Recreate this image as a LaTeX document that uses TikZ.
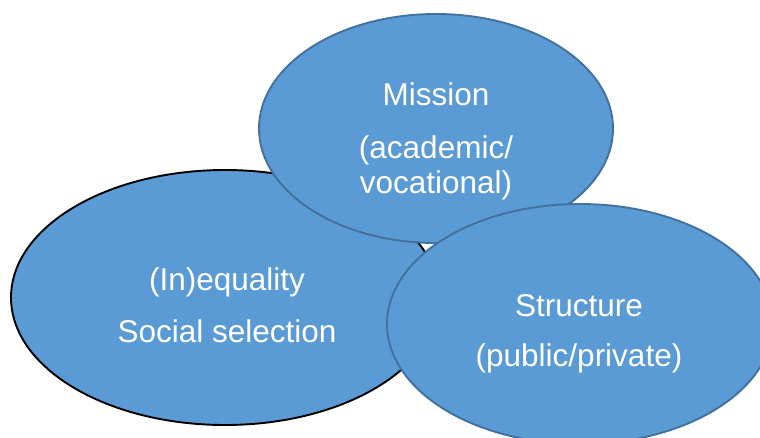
\documentclass[tikz,border=0pt]{standalone}
\usepackage{fontspec}
\setmainfont{Liberation Sans}
\usetikzlibrary{shapes.geometric}
\definecolor{blobfill}{RGB}{91,155,213}
\definecolor{blobline}{RGB}{65,113,156}
\tikzset{
    %Define standard ellipse look
    blob/.style={ellipse, fill=blobfill, draw=blobline, line width=1.9pt, inner sep=0pt},
    lbl/.style={anchor=base, text=white, font=\fontsize{31.5}{35}\selectfont}
}
\begin{document}
\begin{tikzpicture}[x=1pt,y=-1pt]
    \useasboundingbox (0,0) rectangle (760,437);
    \clip (0,0) rectangle (760,437);
    \node[blob, draw=black, minimum width=428pt, minimum height=255pt] (ineq) at (225,297.5) {};
    \node[blob, minimum width=354pt, minimum height=229pt] (mission) at (436,128.5) {};
    \node[blob, minimum width=386pt, minimum height=240pt] (struct) at (580,324) {};
    % labels
    \node[lbl] (ineq1) at (227,290.5) {(In)equality};
    \node[lbl] (ineq2) at (227,342.5) {Social selection};
    \node[lbl] (mission1) at (436,105) {Mission};
    \node[lbl] (mission2) at (436,158) {(academic/};
    \node[lbl] (mission3) at (436,193) {vocational)};
    \node[lbl] (struct1) at (579,316.5) {Structure};
    \node[lbl] (struct2) at (579,366.5) {(public/private)};
\end{tikzpicture}
\end{document}
